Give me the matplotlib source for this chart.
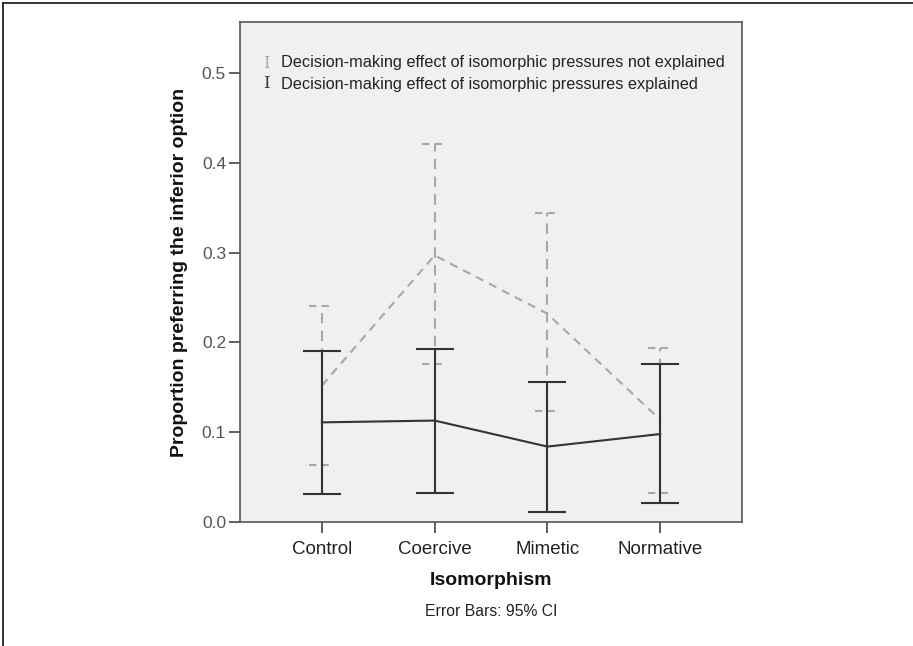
import matplotlib
matplotlib.use("Agg")
import matplotlib.pyplot as plt
from matplotlib.lines import Line2D
import numpy as np

plt.rcParams['font.family'] = ['Liberation Sans', 'DejaVu Sans']

categories = ["Control", "Coercive", "Mimetic", "Normative"]
# not explained (gray dashed)
ne_mean = [0.152, 0.297, 0.232, 0.114]
ne_low = [0.063, 0.176, 0.124, 0.032]
ne_high = [0.241, 0.421, 0.344, 0.194]
# explained (black solid)
ex_mean = [0.111, 0.113, 0.084, 0.098]
ex_low = [0.031, 0.032, 0.011, 0.021]
ex_high = [0.191, 0.193, 0.156, 0.176]
yticks = [0.0, 0.1, 0.2, 0.3, 0.4, 0.5]
legend_labels = ["Decision-making effect of isomorphic pressures not explained",
                 "Decision-making effect of isomorphic pressures explained"]

W, H = 913, 646
fig = plt.figure(figsize=(W / 100, H / 100), dpi=100)
ax = fig.add_axes([240 / W, (H - 522) / H, 502 / W, 500 / H])
ax.set_facecolor("#f0f0f0")

x = np.arange(len(categories))
gray = "#a8a8a8"
dark = "#333333"

ne_m = np.array(ne_mean)
ex_m = np.array(ex_mean)
yerr_ne = [ne_m - np.array(ne_low), np.array(ne_high) - ne_m]
yerr_ex = [ex_m - np.array(ex_low), np.array(ex_high) - ex_m]

ax.plot(x, ne_m, color=gray, lw=1.5, ls=(0, (4, 3)), zorder=2)
eb = ax.errorbar(x, ne_m, yerr=yerr_ne, fmt='none', ecolor=gray, elinewidth=1.5,
                 capsize=0, zorder=2)
eb[2][0].set_linestyle((0, (5, 3.5)))
cap_w = 0.11
for xi, lo, hi in zip(x, ne_low, ne_high):
    for yv in (lo, hi):
        ax.plot([xi - cap_w, xi + cap_w], [yv, yv], color=gray, lw=1.5,
                ls=(0, (3.5, 2.5)), zorder=2)

ax.plot(x, ex_m, color=dark, lw=1.5, zorder=3)
ax.errorbar(x, ex_m, yerr=yerr_ex, fmt='none', ecolor=dark, elinewidth=1.5,
            capsize=14, capthick=1.5, zorder=3)

ax.set_xlim(-0.726, 3.726)
ax.set_ylim(0, 0.557)
ax.set_xticks(x)
ax.set_xticklabels(categories, fontsize=13.5, color="#222222")
ax.set_yticks(yticks)
ax.set_yticklabels([f"{v:.1f}" for v in yticks], fontsize=12.5, color="#555555")
ax.tick_params(axis='both', direction='out', length=8, width=1.2, color="#444444")
ax.tick_params(axis='x', pad=6)
ax.tick_params(axis='y', pad=2)
for s in ax.spines.values():
    s.set_color("#555555")
    s.set_linewidth(1.2)

ax.set_xlabel("Isomorphism", fontsize=14, fontweight='bold', labelpad=10,
              color="#111111")
ax.set_ylabel("Proportion preferring the inferior option", fontsize=14,
              fontweight='bold', labelpad=10, color="#111111")

# legend
ax.text(0.053, 0.918, "I", transform=ax.transAxes, color=gray, fontsize=12,
        family='DejaVu Serif', ha='center', va='center')
ax.text(0.053, 0.876, "I", transform=ax.transAxes, color=dark, fontsize=12,
        family='DejaVu Serif', ha='center', va='center')
ax.text(0.0817, 0.918, legend_labels[0], transform=ax.transAxes, fontsize=11.7,
        color="#222222", va='center')
ax.text(0.0817, 0.876, legend_labels[1], transform=ax.transAxes, fontsize=11.7,
        color="#222222", va='center')

fig.text(491 / W, 1 - 612 / H, "Error Bars: 95% CI", ha='center', va='center',
         fontsize=11.3, color="#222222")

# outer frame lines (top and left)
fig.add_artist(Line2D([3 / W, 3 / W], [0, 1 - 3 / H], color="#111111", lw=1.2))
fig.add_artist(Line2D([3 / W, 1], [1 - 3 / H, 1 - 3 / H], color="#111111", lw=1.2))

fig.savefig("out.png", dpi=100)
